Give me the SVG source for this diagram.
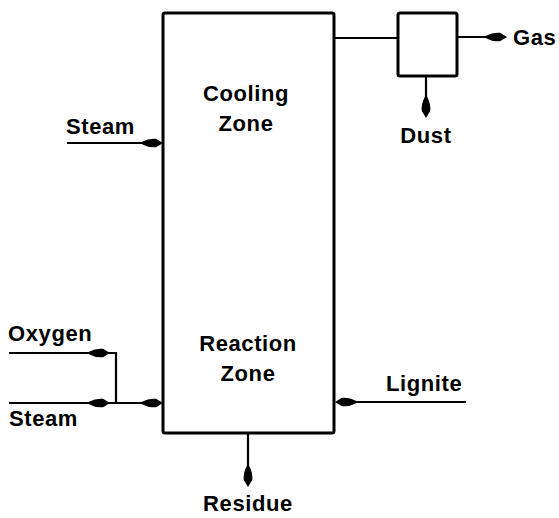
<svg xmlns="http://www.w3.org/2000/svg" xmlns:xlink="http://www.w3.org/1999/xlink" width="559" height="518" viewBox="0 0 559 518">
<style>
.ln{stroke:#000;stroke-width:2.2;fill:none}
.box{stroke:#000;stroke-width:3;fill:#fff}
.t{font-family:"Liberation Sans",Arial,sans-serif;font-weight:bold;font-size:22px;letter-spacing:0.6px;fill:#000}
.c{text-anchor:middle}
</style>
<defs>
<path id="ah" d="M0,0 L-7,-4.2 Q-14,-5 -21,-1.2 L-21,1.2 Q-14,5 -7,4.2 Z" fill="#000"/>
</defs>
<g id="connectors">
<line class="ln" x1="334" y1="38" x2="398" y2="38"/>
<line class="ln" x1="457" y1="37" x2="490" y2="37"/>
<use xlink:href="#ah" transform="translate(507,37)"/>
<line class="ln" x1="426" y1="76" x2="426" y2="100"/>
<use xlink:href="#ah" transform="translate(426,118) rotate(90)"/>
<line class="ln" x1="67" y1="143" x2="145" y2="143"/>
<use xlink:href="#ah" transform="translate(163,143)"/>
<polyline class="ln" points="9,353 116,353 116,403"/>
<use xlink:href="#ah" transform="translate(110,353)"/>
<line class="ln" x1="9" y1="403" x2="145" y2="403"/>
<use xlink:href="#ah" transform="translate(110,403)"/>
<use xlink:href="#ah" transform="translate(163,403)"/>
<line class="ln" x1="466" y1="402" x2="352" y2="402"/>
<use xlink:href="#ah" transform="translate(335,402) rotate(180)"/>
<line class="ln" x1="248" y1="434" x2="248" y2="470"/>
<use xlink:href="#ah" transform="translate(248,487) rotate(90)"/>
</g>
<g id="reactor">
<rect class="box" x="163" y="13" width="171" height="420" rx="2"/>
<text class="t c" x="246" y="101">Cooling</text>
<text class="t c" x="246" y="131">Zone</text>
<text class="t c" x="248" y="351">Reaction</text>
<text class="t c" x="248" y="381">Zone</text>
</g>
<g id="separator">
<rect class="box" x="398" y="13" width="59" height="63" rx="2"/>
</g>
<g id="labels">
<text class="t" x="513" y="45">Gas</text>
<text class="t c" x="426" y="143">Dust</text>
<text class="t" x="66" y="134">Steam</text>
<text class="t" x="8" y="341">Oxygen</text>
<text class="t" x="9" y="426">Steam</text>
<text class="t" x="386" y="391">Lignite</text>
<text class="t c" x="248" y="511">Residue</text>
</g>
</svg>
